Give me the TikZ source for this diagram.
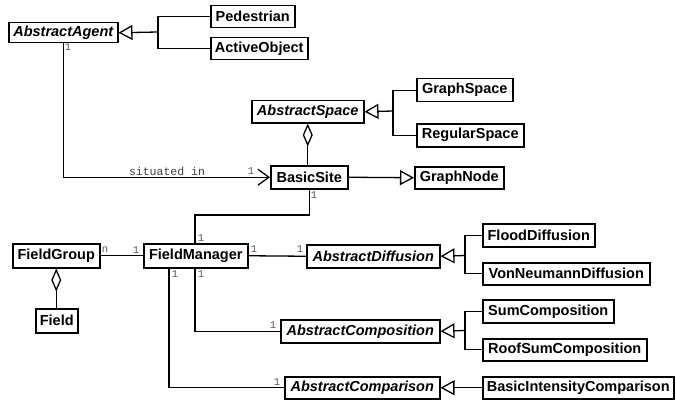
\documentclass[tikz,border=0pt]{standalone}
\usepackage{fontspec}
\setmainfont{Liberation Sans}
\newfontfamily\monof{Liberation Mono}
\usetikzlibrary{arrows.meta,calc}
\definecolor{mult}{RGB}{110,80,90}
\tikzset{
  cls/.style={draw, line width=1.5pt, fill=white, inner sep=0pt, anchor=north west,
    font=\bfseries\fontsize{14.5}{15}\selectfont},
  abscls/.style={cls, font=\bfseries\itshape\fontsize{14.5}{15}\selectfont},
  conn/.style={line width=1.3pt},
  gen/.style={conn, -{Triangle[open,length=14pt,width=15pt,line width=1.3pt]}},
  assoc/.style={conn, -{Straight Barb[length=11pt,width=16pt,line width=1.3pt]}},
  agg/.style={conn, {Diamond[open,length=23pt,width=10pt,line width=1.3pt]}-},
  mlabel/.style={font=\monof\fontsize{10.5}{11}\selectfont, text=mult, inner sep=0pt},
  rlabel/.style={font=\monof\fontsize{11.5}{12}\selectfont, text=black!75, inner sep=0pt}
}
\begin{document}
\begin{tikzpicture}[x=1pt,y=-1pt]
\useasboundingbox (0,0) rectangle (676,401);
% classes
\node[abscls, minimum width=109pt, minimum height=20pt] (agent) at (8,22) {AbstractAgent};
\node[cls, minimum width=84pt, minimum height=22pt] (ped) at (210,5) {Pedestrian};
\node[cls, minimum width=97pt, minimum height=22pt] (act) at (210,37) {ActiveObject};
\node[abscls, minimum width=112pt, minimum height=22pt] (space) at (251,100) {AbstractSpace};
\node[cls, minimum width=96pt, minimum height=23pt] (gspace) at (416,78) {GraphSpace};
\node[cls, minimum width=107pt, minimum height=23pt] (rspace) at (416,123) {RegularSpace};
\node[cls, minimum width=77pt, minimum height=23pt] (site) at (270,165) {BasicSite};
\node[cls, minimum width=89pt, minimum height=22pt] (gnode) at (414,166) {GraphNode};
\node[cls, minimum width=87pt, minimum height=24pt] (fg) at (12,243) {FieldGroup};
\node[cls, minimum width=42pt, minimum height=24pt] (field) at (35,308) {Field};
\node[cls, minimum width=104pt, minimum height=24pt] (fm) at (143,243) {FieldManager};
\node[abscls, minimum width=133pt, minimum height=23pt] (adiff) at (306,244) {AbstractDiffusion};
\node[cls, minimum width=112pt, minimum height=23pt] (flood) at (482,223) {FloodDiffusion};
\node[cls, minimum width=167pt, minimum height=22pt] (vonn) at (482,262) {VonNeumannDiffusion};
\node[abscls, minimum width=159pt, minimum height=23pt] (acomp) at (280,319) {AbstractComposition};
\node[cls, minimum width=131pt, minimum height=23pt] (sumc) at (482,299) {SumComposition};
\node[cls, minimum width=164pt, minimum height=22pt] (roof) at (482,338) {RoofSumComposition};
\node[abscls, minimum width=155pt, minimum height=22pt] (acmp) at (284,376) {AbstractComparison};
\node[cls, minimum width=191pt, minimum height=22pt] (bic) at (482,376) {BasicIntensityComparison};
% generalizations
\coordinate (jA) at (158,32);
\draw[conn] (ped.west) -| (jA);
\draw[conn] (act.west) -| (jA);
\draw[gen] (jA) -- (agent.east);
\coordinate (jS) at (393,111);
\draw[conn] (gspace.west) -| (jS);
\draw[conn] (rspace.west) -| (jS);
\draw[gen] (jS) -- (space.east);
\draw[gen] (site.east) -- (gnode.west);
\coordinate (jD) at (465,255.5);
\draw[conn] (flood.west) -| (jD);
\draw[conn] (vonn.west) -| (jD);
\draw[gen] (jD) -- (adiff.east);
\coordinate (jC) at (465,330.5);
\draw[conn] (sumc.west) -| (jC);
\draw[conn] (roof.west) -| (jC);
\draw[gen] (jC) -- (acomp.east);
\draw[gen] (bic.west) -- (acmp.east);
% associations
\draw[assoc] (agent.south) |- (site.west);
\draw[agg] (space.south) -- (space.south |- site.north);
\coordinate (k1) at (195,215);
\draw[conn] (site.south) |- (k1) -- (k1 |- fm.north);
\draw[conn] (fg.east) -- (fm.west);
\draw[agg] (fg.south) -- (fg.south |- field.north);
\draw[conn] (fm.east) -- (adiff.west);
\draw[conn] ($(fm.south west)+(52,0)$) |- (acomp.west);
\draw[conn] ($(fm.south west)+(26,0)$) |- (acmp.west);
% labels
\node[mlabel] (l1) at (68,47) {1};
\node[rlabel] (lsit) at (167,171) {situated in};
\node[mlabel] (l2) at (251,171) {1};
\node[mlabel] (l3) at (314,195) {1};
\node[mlabel] (l4) at (201,238) {1};
\node[mlabel] (l5) at (105,250) {n};
\node[mlabel] (l6) at (136,250) {1};
\node[mlabel] (l7) at (254,249) {1};
\node[mlabel] (l8) at (300,249) {1};
\node[mlabel] (l9) at (201,274) {1};
\node[mlabel] (l10) at (175,274) {1};
\node[mlabel] (l11) at (273,325) {1};
\node[mlabel] (l12) at (277,382) {1};
\end{tikzpicture}
\end{document}
